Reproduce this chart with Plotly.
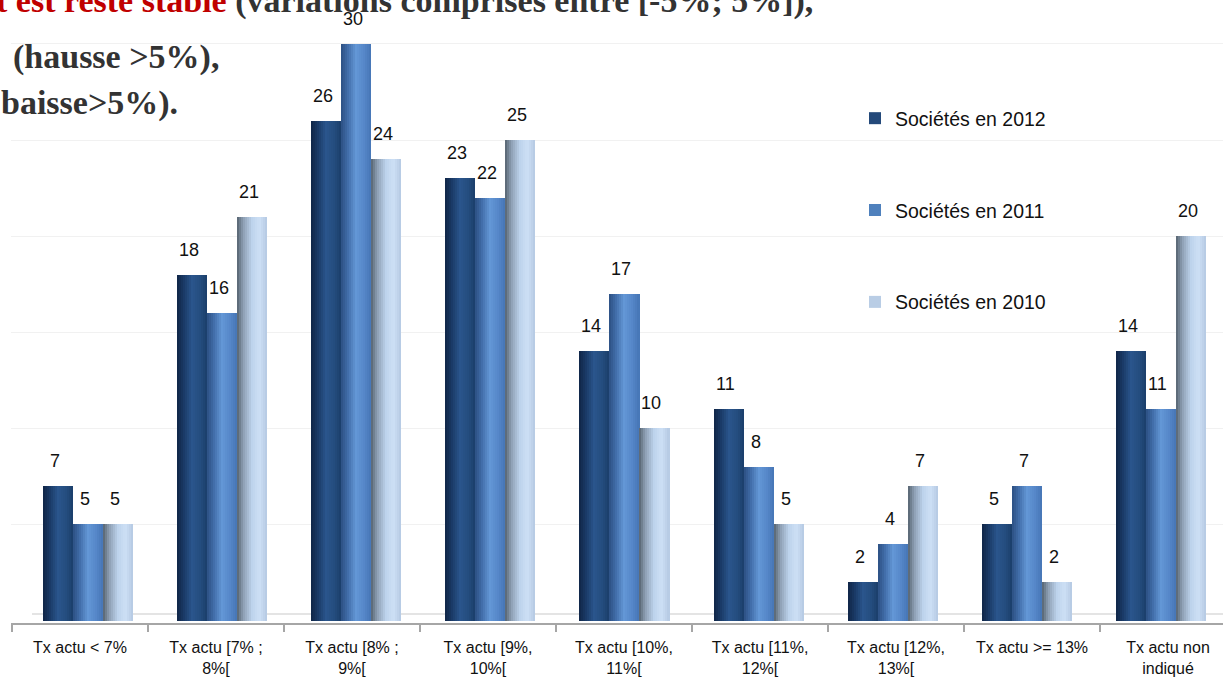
import plotly.graph_objects as go

# --- data -------------------------------------------------------------
categories = [
    "Tx actu < 7%",
    "Tx actu [7% ;<br>8%[",
    "Tx actu [8% ;<br>9%[",
    "Tx actu [9%,<br>10%[",
    "Tx actu [10%,<br>11%[",
    "Tx actu [11%,<br>12%[",
    "Tx actu [12%,<br>13%[",
    "Tx actu >= 13%",
    "Tx actu non<br>indiqué",
]
series_names = ["Sociétés en 2012", "Sociétés en 2011", "Sociétés en 2010"]
societes_2012 = [7, 18, 26, 23, 14, 11, 2, 5, 14]
societes_2011 = [5, 16, 30, 22, 17, 8, 4, 7, 11]
societes_2010 = [5, 21, 24, 25, 10, 5, 7, 2, 20]
series_values = [societes_2012, societes_2011, societes_2010]

# --- styling ----------------------------------------------------------
SANS = "Liberation Sans, Arial, sans-serif"
SERIF = "Liberation Serif, Times New Roman, serif"

legend_colors = ["#24497A", "#4F81BD", "#B9CDE5"]
# cylinder shading, left -> right across each bar
shading = [
    [(0.0, "#0f2546"), (0.25, "#1b3c69"), (0.5, "#2a558c"), (0.78, "#244d7e"), (1.0, "#1b3e6a")],
    [(0.0, "#2c5082"), (0.2, "#3e69a4"), (0.5, "#6397d6"), (0.78, "#5586c8"), (1.0, "#4676b5")],
    [(0.0, "#55626f"), (0.2, "#8b9db1"), (0.5, "#bdd3ec"), (0.75, "#cde0f5"), (1.0, "#b5c9e2")],
]
N_SLICES = 15

UNIT_PX = 134.1          # pixels per category step for the bars
BAR_W = 30 / UNIT_PX     # width of one bar in axis units
bar_offsets = [-1.5 * BAR_W, -0.5 * BAR_W, 0.5 * BAR_W]

LABEL_STEP = 136 / UNIT_PX
label_pos = [-8 / UNIT_PX + LABEL_STEP * i for i in range(len(categories))]
boundaries = [-76 / UNIT_PX + LABEL_STEP * k for k in range(len(categories) + 1)]

X_RANGE = [-77 / UNIT_PX, (1223 - 88) / UNIT_PX]
PX_PER_VAL = 19.22
PLOT_BOTTOM = 623
Y_RANGE = [-(PLOT_BOTTOM - 620.5) / PX_PER_VAL, 620.5 / PX_PER_VAL]


def hex_to_rgb(h):
    h = h.lstrip("#")
    return tuple(int(h[i:i + 2], 16) for i in (0, 2, 4))


def blend(stops, t):
    for (t0, c0), (t1, c1) in zip(stops[:-1], stops[1:]):
        if t0 <= t <= t1:
            f = (t - t0) / (t1 - t0) if t1 > t0 else 0
            a, b = hex_to_rgb(c0), hex_to_rgb(c1)
            r = [round(a[k] + (b[k] - a[k]) * f) for k in range(3)]
            return "rgb({},{},{})".format(*r)
    return stops[-1][1]


x_idx = list(range(len(categories)))
fig = go.Figure()

for s, (name, vals) in enumerate(zip(series_names, series_values)):
    # base bar carries the legend entry
    fig.add_trace(go.Bar(
        x=x_idx, y=vals, name=name, legendgroup=name,
        offset=bar_offsets[s], width=BAR_W,
        marker=dict(color=legend_colors[s], line=dict(width=0)),
        hovertemplate=name + ": %{y}<extra></extra>",
    ))
    # shading slices across the bar width
    sw = BAR_W / N_SLICES
    for j in range(N_SLICES):
        t = (j + 0.5) / N_SLICES
        fig.add_trace(go.Bar(
            x=x_idx, y=vals, legendgroup=name, showlegend=False,
            offset=bar_offsets[s] + j * sw, width=sw * 1.05,
            marker=dict(color=blend(shading[s], t), line=dict(width=0)),
            hoverinfo="skip",
        ))

# value labels above each bar
annotations = []
for s, vals in enumerate(series_values):
    for i, v in enumerate(vals):
        annotations.append(dict(
            x=i + bar_offsets[s] + BAR_W / 2, y=v, xref="x", yref="y",
            text=str(v), showarrow=False, yshift=25, xshift=-3,
            xanchor="center", yanchor="middle",
            font=dict(family=SANS, size=18, color="#111111"),
        ))

# heading text (runs off the page edges)
title_color = "#333333"
title_font = dict(family=SERIF, size=34, color=title_color, weight="bold")
annotations += [
    dict(xref="paper", yref="paper", x=0, y=1 - 0.5 / PLOT_BOTTOM,
         xanchor="left", yanchor="middle", xshift=-17, showarrow=False,
         text="<span style='color:#C00000'>t est resté stable</span> (variations comprises entre [-5%; 5%]),",
         font=title_font),
    dict(xref="paper", yref="paper", x=0, y=1 - 56.5 / PLOT_BOTTOM,
         xanchor="left", yanchor="middle", xshift=0, showarrow=False,
         text="(hausse >5%),", font=title_font),
    dict(xref="paper", yref="paper", x=0, y=1 - 103 / PLOT_BOTTOM,
         xanchor="left", yanchor="middle", xshift=-12, showarrow=False,
         text="baisse>5%).", font=title_font),
]

fig.update_layout(
    width=1223, height=681,
    margin=dict(l=11, r=0, t=0, b=681 - PLOT_BOTTOM, pad=0),
    paper_bgcolor="white", plot_bgcolor="white",
    barmode="overlay", bargap=0,
    showlegend=True,
    legend=dict(
        x=(855 - 11) / 1212, y=1 - 99 / PLOT_BOTTOM, xanchor="left", yanchor="top",
        font=dict(family=SANS, size=19.5, color="#111111"),
        bgcolor="rgba(0,0,0,0)", tracegroupgap=63.5, traceorder="grouped",
        itemclick=False, itemdoubleclick=False,
    ),
    annotations=annotations,
    shapes=[
        # floor edge of the 3D base
        dict(type="line", xref="paper", yref="y",
             x0=21 / 1212, x1=1, y0=(620.5 - 614) / PX_PER_VAL, y1=(620.5 - 614) / PX_PER_VAL,
             line=dict(color="#e4e4e4", width=2), layer="below"),
    ],
)

fig.update_xaxes(
    range=X_RANGE, showgrid=False, zeroline=False,
    showline=True, linecolor="#a6a6a6", linewidth=2,
    tickmode="array", tickvals=label_pos, ticktext=categories,
    ticks="", ticklabelstandoff=9,
    tickfont=dict(family=SANS, size=16, color="#111111"),
    minor=dict(tickmode="array", tickvals=boundaries, ticks="outside",
               ticklen=7, tickwidth=2, tickcolor="#a6a6a6", showgrid=False),
    fixedrange=True,
)
fig.update_yaxes(
    range=Y_RANGE, showticklabels=False, showline=False, zeroline=False,
    showgrid=True, gridcolor="#f1f1f1", gridwidth=1,
    tickmode="array", tickvals=[5, 10, 15, 20, 25, 30],
    fixedrange=True,
)

fig.write_html("out.html")
